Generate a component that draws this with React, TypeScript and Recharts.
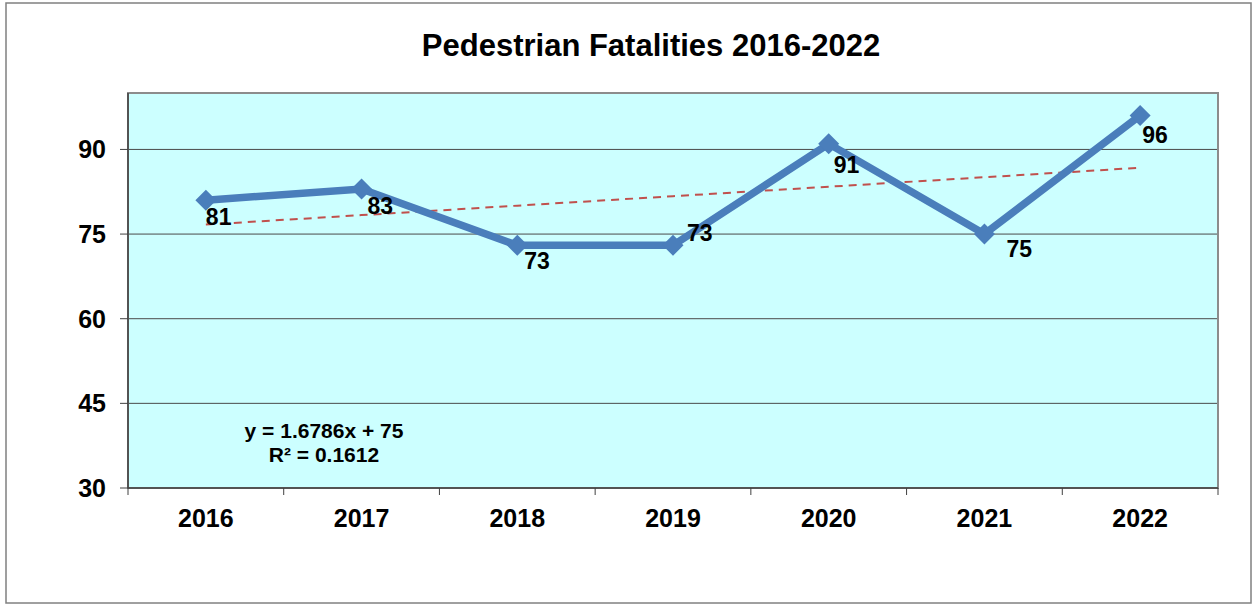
import React from 'react';
import { LineChart, Line, XAxis, YAxis, CartesianGrid, ReferenceArea, LabelList } from 'recharts';

const years = ['2016', '2017', '2018', '2019', '2020', '2021', '2022'];
const fatalities = [81, 83, 73, 73, 91, 75, 96];
// Linear trendline values as drawn (y = 1.6786x + 75)
const trendValues = [76.68, 78.36, 80.04, 81.71, 83.39, 85.07, 86.75];
const yTicks = [30, 45, 60, 75, 90];
const titleText = 'Pedestrian Fatalities 2016-2022';
const equationText = 'y = 1.6786x + 75';
const rSquaredText = 'R² = 0.1612';

// manual data-label nudges (dx, dy to label centre), as placed in the original
const labelNudge: [number, number][] = [[0, 17], [6, 17], [7, 16], [14, -12], [5, 21], [22, 15], [2, 19]];

const data = years.map((year, i) => ({ year, value: fatalities[i], trend: trendValues[i] }));

const FONT = '"Liberation Sans", Arial, Helvetica, sans-serif';
const BLUE = '#4a7ebb';
const AXIS = '#404040';

const Diamond = (props: any) => {
  const { cx, cy } = props;
  if (cx == null || cy == null) return null;
  const r = 10.5;
  return <path d={`M${cx},${cy - r}L${cx + r},${cy}L${cx},${cy + r}L${cx - r},${cy}Z`} fill={BLUE} />;
};

const XTick = (props: any) => {
  const { x, y, payload, index, visibleTicksCount } = props;
  const half = payload && typeof payload.offset === 'number' && payload.offset > 0 ? payload.offset : 77.86;
  const last = index === (visibleTicksCount ?? years.length) - 1;
  return (
    <g>
      <line x1={x - half} x2={x - half} y1={y} y2={y + 7} stroke={AXIS} strokeWidth={1} />
      {last && <line x1={x + half} x2={x + half} y1={y} y2={y + 7} stroke={AXIS} strokeWidth={1} />}
      <text x={x} y={y + 39} textAnchor="middle" fontFamily={FONT} fontWeight="bold" fontSize={25} fill="#000">
        {payload.value}
      </text>
    </g>
  );
};

const DataLabel = (props: any) => {
  const { x, y, value, index } = props;
  const [dx, dy] = labelNudge[index] || [0, 17];
  return (
    <text x={x + dx} y={y + dy + 8} textAnchor="start" fontFamily={FONT} fontWeight="bold" fontSize={23} fill="#000">
      {value}
    </text>
  );
};

export default function App() {
  return (
    <div style={{ position: 'absolute', left: 0, top: 0, width: 1254, height: 606, background: '#fff' }}>
      <div style={{ position: 'absolute', left: 0, top: 0 }}>
        <LineChart width={1254} height={606} data={data} margin={{ top: 93, right: 36, bottom: 0, left: 0 }}>
          <CartesianGrid vertical={false} horizontal={true} stroke="#4a4a4a" strokeWidth={1} fill="#ccffff" fillOpacity={1} />
          <ReferenceArea y1={30} y2={100} fill="none" fillOpacity={0} stroke="#8c8c8c" strokeWidth={2} />
          <XAxis
            dataKey="year"
            type="category"
            scale="band"
            height={118}
            tickSize={0}
            tickMargin={0}
            tickLine={false}
            axisLine={{ stroke: AXIS, strokeWidth: 1.5 }}
            tick={<XTick />}
            interval={0}
          />
          <YAxis
            domain={[30, 100]}
            ticks={yTicks}
            width={128}
            tickSize={8}
            tickMargin={14}
            axisLine={{ stroke: AXIS, strokeWidth: 1.5 }}
            tickLine={{ stroke: AXIS }}
            tick={{ fill: '#000', fontSize: 25, fontWeight: 'bold', fontFamily: FONT }}
            allowDataOverflow
          />
          <Line
            type="linear"
            dataKey="trend"
            stroke="#c0504d"
            strokeWidth={2}
            strokeDasharray="8 6"
            dot={false}
            activeDot={false}
            isAnimationActive={false}
          />
          <Line
            type="linear"
            dataKey="value"
            stroke={BLUE}
            strokeWidth={7.5}
            dot={<Diamond />}
            activeDot={false}
            isAnimationActive={false}
          >
            <LabelList dataKey="value" content={<DataLabel />} />
          </Line>
        </LineChart>
      </div>
      <svg
        width={1254}
        height={606}
        style={{ position: 'absolute', left: 0, top: 0, pointerEvents: 'none' }}
      >
        <rect x={6} y={3} width={1245} height={600} fill="none" stroke="#808080" strokeWidth={1.5} />
        <text x={651} y={56} textAnchor="middle" fontFamily={FONT} fontWeight="bold" fontSize={31} fill="#000">
          {titleText}
        </text>
        <text x={324} y={438} textAnchor="middle" fontFamily={FONT} fontWeight="bold" fontSize={21} fill="#000">
          {equationText}
        </text>
        <text x={324} y={462} textAnchor="middle" fontFamily={FONT} fontWeight="bold" fontSize={21} fill="#000">
          {rSquaredText}
        </text>
      </svg>
    </div>
  );
}
